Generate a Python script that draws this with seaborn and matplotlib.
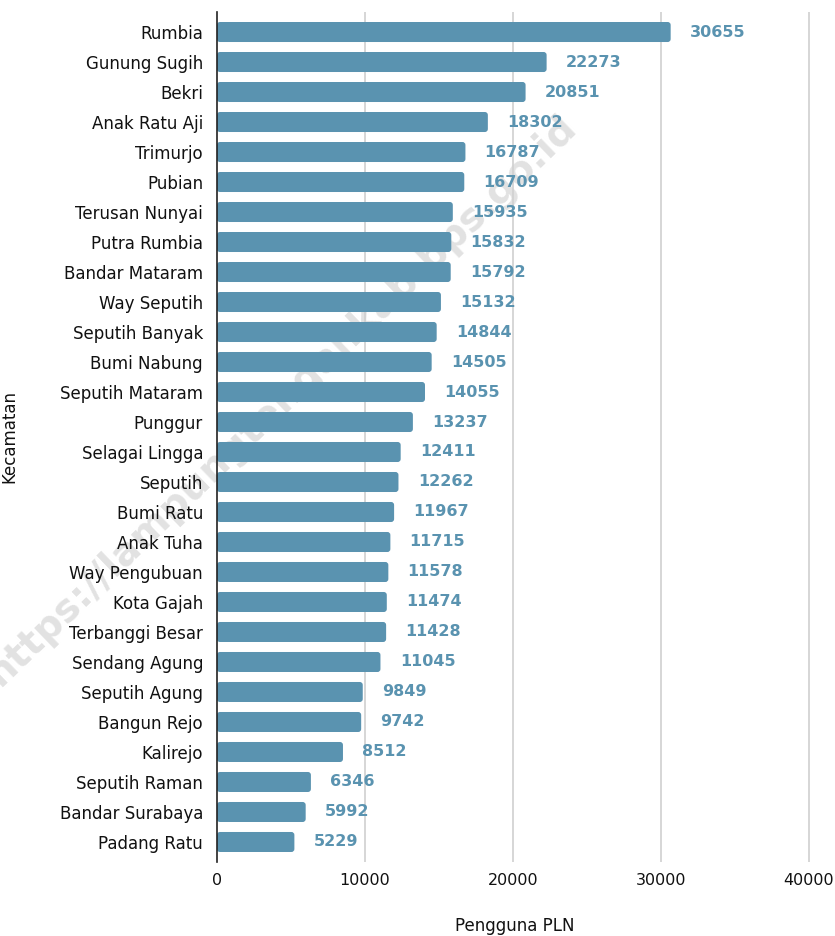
import numpy as np
import pandas as pd
import matplotlib
matplotlib.use("Agg")
import matplotlib.pyplot as plt
from matplotlib.patches import FancyBboxPatch
import seaborn as sns

kecamatan = ["Rumbia", "Gunung Sugih", "Bekri", "Anak Ratu Aji", "Trimurjo", "Pubian",
             "Terusan Nunyai", "Putra Rumbia", "Bandar Mataram", "Way Seputih",
             "Seputih Banyak", "Bumi Nabung", "Seputih Mataram", "Punggur",
             "Selagai Lingga", "Seputih", "Bumi Ratu", "Anak Tuha", "Way Pengubuan",
             "Kota Gajah", "Terbanggi Besar", "Sendang Agung", "Seputih Agung",
             "Bangun Rejo", "Kalirejo", "Seputih Raman", "Bandar Surabaya", "Padang Ratu"]
pengguna = [30655, 22273, 20851, 18302, 16787, 16709, 15935, 15832, 15792, 15132,
            14844, 14505, 14055, 13237, 12411, 12262, 11967, 11715, 11578, 11474,
            11428, 11045, 9849, 9742, 8512, 6346, 5992, 5229]
x_ticks = [0, 10000, 20000, 30000, 40000]

bar_color = "#5a93b0"

sns.set_style("white")
plt.rcParams['font.family'] = ['DejaVu Sans']

df = pd.DataFrame({'Kecamatan': kecamatan, 'Pengguna PLN': pengguna})

fig = plt.figure(figsize=(8.35, 9.36), dpi=100)
ax_w = 813.4 - 217
ax = fig.add_axes([217 / 835, 1 - 862 / 936, ax_w / 835, (862 - 12) / 936])
ax.set_facecolor('none')

sns.barplot(data=df, x='Pengguna PLN', y='Kecamatan', orient='h', color=bar_color,
            saturation=1, width=0.667, ax=ax)

# slightly rounded bar ends (radius ~3 px)
for p in list(ax.patches):
    x0, y0 = p.get_x(), p.get_y()
    w, h = p.get_width(), p.get_height()
    rb = FancyBboxPatch((x0, y0), w, h, boxstyle="round,pad=0,rounding_size=200",
                        mutation_aspect=0.1 / 200, facecolor=bar_color,
                        edgecolor='none', zorder=p.get_zorder())
    p.remove()
    ax.add_patch(rb)

# value labels
for i, v in enumerate(pengguna):
    ax.text(v + 1300, i, str(v), va='center', ha='left', fontsize=11.5,
            fontweight='bold', color=bar_color)

ax.set_xlim(0, 40300)
ax.set_ylim(len(kecamatan) - 1 + 0.667, -0.667)
ax.set_xticks(x_ticks)
ax.set_xticklabels([str(t) for t in x_ticks], fontsize=11.5, color='#111111')
ax.tick_params(axis='y', labelsize=12, length=0, pad=10, labelcolor='#111111')
ax.tick_params(axis='x', length=0, pad=8)

for t in x_ticks[1:]:
    ax.axvline(t, color='#d0d0d0', lw=1.2, zorder=0)

for s in ['top', 'right', 'bottom']:
    ax.spines[s].set_visible(False)
ax.spines['left'].set_color('#222222')
ax.spines['left'].set_linewidth(1.2)
ax.spines['left'].set_zorder(5)

ax.set_xlabel('Pengguna PLN', fontsize=12, labelpad=21, color='#111111')
ax.set_ylabel('Kecamatan', fontsize=12, color='#111111')
ax.yaxis.set_label_coords((18 - 217) / ax_w, 0.5)

# watermark, behind the bars
fig.text(282 / 835, 1 - 400 / 936, 'https://lampungtengahkab.bps.go.id', rotation=44,
         ha='center', va='center', fontsize=28, fontweight='bold', color='#e2e2e2',
         zorder=-1)

plt.savefig('out.png', dpi=100)
plt.close()
